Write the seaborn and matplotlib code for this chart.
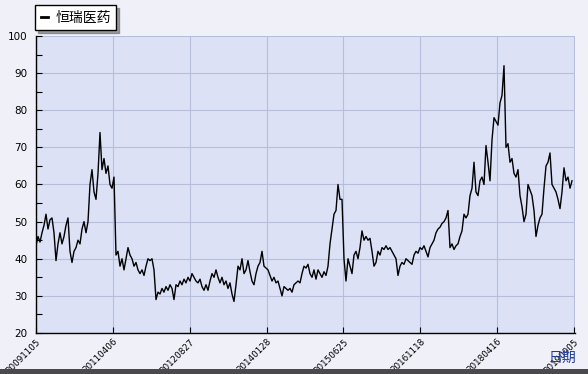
import numpy as np
import pandas as pd
import matplotlib
matplotlib.use("Agg")
import matplotlib.pyplot as plt
import seaborn as sns
from matplotlib.patches import Rectangle

series_name = "恒瑞医药"
x_label = "日期"
date_labels = ["20091105", "20110406", "20120827", "20140128",
               "20150625", "20161118", "20180416", "20190905"]
y_ticks = [20, 30, 40, 50, 60, 70, 80, 90, 100]

prices = [
    43.5, 46, 44.5, 47, 49, 52, 48, 50.5, 51, 47,
    39.5, 44, 47, 44, 46, 49, 51, 42, 39, 42,
    43, 45, 44, 48, 50, 47, 50, 60, 64, 58,
    56, 63, 74, 64, 67, 63, 65, 60, 59, 62,
    41, 42, 38, 40, 37, 40, 43, 41, 40, 38,
    39, 37, 36, 37, 35.5, 38, 40, 39.5, 40, 37,
    29, 31, 30.5, 32, 31, 32.5, 31.5, 33, 32, 29,
    33, 32.5, 34, 33, 34.5, 33.5, 35, 34, 36, 35,
    34, 33.5, 34.5, 32.5, 31.5, 33, 31.5, 34, 36, 35,
    37, 35, 33.5, 35, 33, 34, 32, 33.5, 30.5, 28.5,
    33, 38, 37, 40, 36, 37, 39.5, 36.5, 34, 33,
    36, 38, 39, 42, 38, 37.5, 37, 35.5, 34, 35,
    33.5, 34, 32, 30, 32.5, 32, 31.5, 32, 31, 33,
    33.5, 34, 33.5, 36, 38, 37.5, 38.5, 36, 35, 37,
    34.5, 37, 36, 35, 36.5, 35.5, 38, 44, 48, 52,
    53, 60, 56, 56, 40, 34, 40, 38, 36, 41,
    42, 40, 43, 47.5, 45, 46, 45, 45.5, 42, 38,
    39, 42, 41, 43, 42.5, 43.5, 42.5, 43, 42, 41,
    40, 35.5, 38, 39, 38.5, 40, 39.5, 39, 38.5, 41,
    42, 41.5, 43, 42.5, 43.5, 42, 40.5, 43, 44, 45,
    47, 48, 48.5, 49.5, 50, 51, 53, 43, 44, 42.5,
    43.5, 44, 46, 47.5, 52, 51, 52, 57, 59, 66,
    58, 57, 61, 62, 60, 70.5, 66, 61, 72, 78,
    77, 76, 82, 84, 92, 70, 71, 66, 67, 63,
    62, 64, 57, 54, 50, 52, 60, 58.5, 57, 53,
    46, 49, 51, 52, 59, 65, 66, 68.5, 60, 59,
    58, 56, 53.5, 58, 64.5, 61, 62, 59, 61,
]

df = pd.DataFrame({"idx": np.arange(len(prices)), "price": prices})

W, H = 588, 374
fig = plt.figure(figsize=(W / 100, H / 100), dpi=100)
fig.patch.set_facecolor("#eff0f8")
L, R, T, B = 36, 575, 36, 333
ax = fig.add_axes([L / W, 1 - B / H, (R - L) / W, (B - T) / H])
ax.set_facecolor("#dce1f6")

sns.lineplot(data=df, x="idx", y="price", color="black", linewidth=1.0,
             ax=ax, label=series_name, legend=False)

ax.set_ylim(20, 100)
ax.set_xlim(0, (R - L) / 2)
ax.set_yticks(y_ticks)
ax.set_yticks(np.arange(20, 101, 5), minor=True)
ax.set_yticklabels([str(v) for v in y_ticks], fontsize=7.5,
                   family="DejaVu Sans")
xt = np.linspace(0, (574 - L) / 2, len(date_labels))
ax.set_xticks(xt)
ax.set_xticklabels(date_labels, rotation=45, ha="right", va="top",
                   rotation_mode="anchor", fontsize=6.3)
ax.tick_params(axis="both", which="both", direction="in", length=4,
               width=0.8, color="black", pad=3)
ax.tick_params(axis="y", which="major", pad=6)
ax.grid(True, which="major", color="#b6bedb", linewidth=0.8)
ax.set_axisbelow(True)
ax.set_xlabel("")
ax.set_ylabel("")
for s in ["top", "right"]:
    ax.spines[s].set_visible(False)
for s in ["left", "bottom"]:
    ax.spines[s].set_color("black")
    ax.spines[s].set_linewidth(1)

leg = ax.legend(loc="upper left", bbox_to_anchor=(35 / W, 1 - 5 / H),
                bbox_transform=fig.transFigure, borderaxespad=0,
                fancybox=False, shadow=True, edgecolor="black",
                framealpha=1, handlelength=0.55, handletextpad=0.5,
                borderpad=0.4, prop={"family": ["Noto Sans CJK SC", "DejaVu Sans"], "size": 10})
leg.get_frame().set_linewidth(1)
for line in leg.get_lines():
    line.set_linewidth(2)

fig.text(576 / W, 1 - 358 / H, x_label, ha="right", va="center",
         fontsize=10, color="#1f3c9c",
         family=["Noto Sans CJK SC", "DejaVu Sans"])
fig.patches.append(Rectangle((0, 0), 1, 5 / H, transform=fig.transFigure,
                             facecolor="#4a4a4a", edgecolor="none"))

fig.savefig("out.png", dpi=100, facecolor=fig.get_facecolor())
